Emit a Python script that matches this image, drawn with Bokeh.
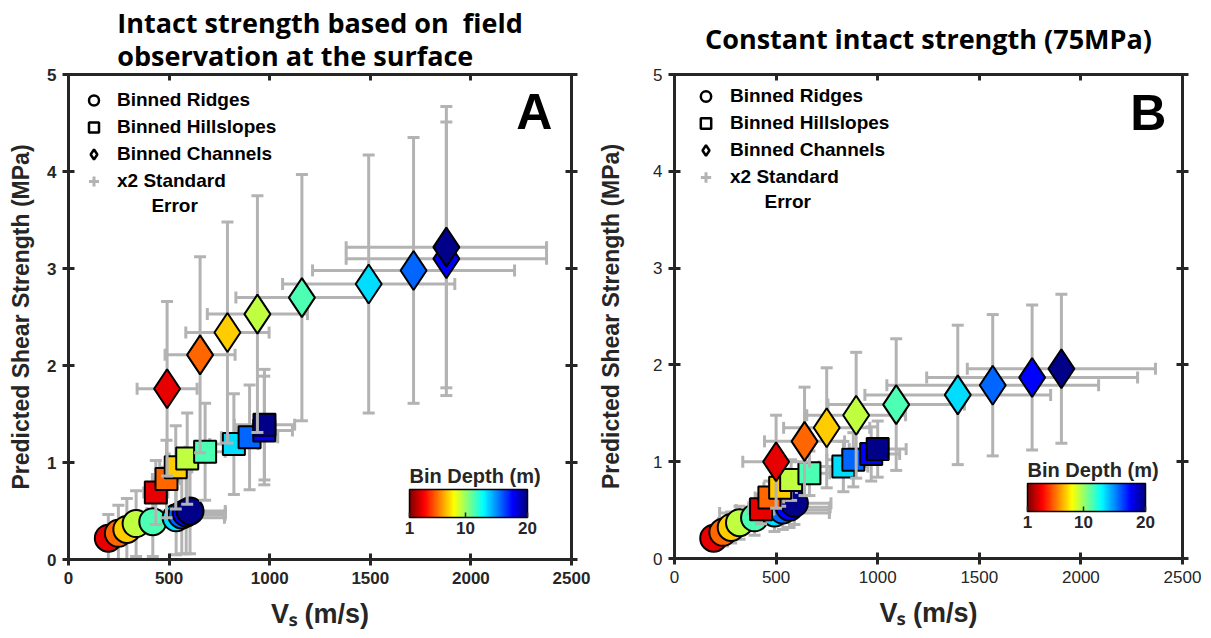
import numpy as np
from bokeh.plotting import figure
from bokeh.models import (Range1d, LinearAxis, FixedTicker, ColorBar, LinearColorMapper,
                          Legend, LegendItem, Label, ColumnDataSource)
from bokeh.layouts import row
from bokeh.embed import file_html
from bokeh.resources import INLINE

# ---------------- data ----------------
bin_colors = ["#e60000", "#ff6600", "#ffcc00", "#bfff40", "#4dffb3",
              "#00ddff", "#0066ff", "#0000ff", "#000088"]

# Panel A : intact strength from field observation
a_ridge_vs = [198, 248, 290, 336, 419, 535, 563, 585, 604]
a_ridge_tau = [0.22, 0.27, 0.31, 0.37, 0.39, 0.43, 0.46, 0.48, 0.50]
a_ridge_vs_err = [40, 50, 60, 70, 90, 240, 215, 195, 175]
a_ridge_tau_err = [0.245, 0.29, 0.32, 0.34, 0.36, 0.38, 0.40, 0.42, 0.44]

a_hill_vs = [434, 487, 533, 590, 679, 822, 900, 973, 974]
a_hill_tau = [0.69, 0.83, 0.95, 1.04, 1.11, 1.19, 1.26, 1.33, 1.39]
a_hill_vs_err = [60, 70, 80, 90, 100, 120, 140, 140, 150]
a_hill_tau_err = [0.33, 0.40, 0.43, 0.47, 0.50, 0.52, 0.54, 0.56, 0.57]

a_chan_vs = [490, 654, 790, 939, 1160, 1492, 1715, 1878, 1878]
a_chan_tau = [1.76, 2.11, 2.34, 2.53, 2.70, 2.84, 2.98, 3.10, 3.22]
a_chan_vs_err = [149, 174, 207, 249, 328, 428, 502, 498, 498]
a_chan_tau_err = [0.90, 1.01, 1.14, 1.22, 1.27, 1.33, 1.37, 1.41, 1.45]

# Panel B : constant intact strength (75 MPa)
b_ridge_vs = [193, 238, 279, 320, 394, 492, 533, 566, 590]
b_ridge_tau = [0.21, 0.27, 0.32, 0.37, 0.42, 0.47, 0.50, 0.53, 0.57]
b_ridge_vs_err = [40, 50, 60, 70, 90, 270, 230, 200, 180]
b_ridge_tau_err = [0.12, 0.14, 0.16, 0.17, 0.18, 0.19, 0.20, 0.21, 0.22]

b_hill_vs = [426, 467, 520, 574, 664, 831, 880, 968, 1000]
b_hill_tau = [0.51, 0.63, 0.73, 0.81, 0.88, 0.95, 1.02, 1.08, 1.13]
b_hill_vs_err = [60, 70, 80, 90, 100, 120, 130, 140, 140]
b_hill_tau_err = [0.15, 0.17, 0.19, 0.21, 0.23, 0.26, 0.28, 0.28, 0.29]

b_chan_vs = [500, 640, 749, 894, 1091, 1394, 1566, 1760, 1904]
b_chan_tau = [1.00, 1.21, 1.35, 1.48, 1.59, 1.69, 1.79, 1.87, 1.96]
b_chan_vs_err = [164, 197, 212, 243, 336, 457, 521, 519, 463]
b_chan_tau_err = [0.48, 0.56, 0.62, 0.65, 0.68, 0.72, 0.73, 0.75, 0.77]

x_ticks = [0, 500, 1000, 1500, 2000, 2500]
y_ticks = [0, 1, 2, 3, 4, 5]
cbar_ticks = [1, 10, 20]
depth_low, depth_high = 1, 20

legend_labels = ["Binned Ridges", "Binned Hillslopes", "Binned Channels", "x2 Standard"]
legend_label_cont = "Error"
title_a = "Intact strength based on \u00a0field\nobservation at the surface"
title_b = "Constant intact strength (75MPa)"

# ---------------- style ----------------
DARK = "#262626"
ERR = "#b3b3b3"
AXFONT = "Liberation Sans"


def jet_palette(n=256):
    cols = []
    for i in range(n):
        t = i / (n - 1)
        r = np.clip(1.5 - abs(4 * t - 3), 0, 1)
        g = np.clip(1.5 - abs(4 * t - 2), 0, 1)
        b = np.clip(1.5 - abs(4 * t - 1), 0, 1)
        cols.append("#%02x%02x%02x" % (int(r * 255), int(g * 255), int(b * 255)))
    return cols[::-1]   # red (shallow) -> blue (deep)


def style_axis(ax, bold, labels=True):
    ax.axis_line_width = 3
    ax.axis_line_color = DARK
    ax.major_tick_line_width = 3
    ax.major_tick_line_color = DARK
    ax.major_tick_in = 6
    ax.major_tick_out = 6
    ax.minor_tick_line_color = None
    ax.major_label_text_font = AXFONT
    ax.major_label_text_font_size = "17px"
    ax.major_label_text_font_style = "bold" if bold else "normal"
    ax.major_label_text_color = DARK
    ax.axis_label_text_font = AXFONT
    ax.axis_label_text_font_style = "bold"
    ax.axis_label_text_color = DARK
    if not labels:
        ax.major_label_overrides = {t: "" for t in x_ticks + y_ticks}
        ax.major_label_text_font_size = "0px"
        ax.major_label_standoff = 0


def draw_group(p, vs, tau, vs_err, tau_err, marker, size):
    vs = np.array(vs, float); tau = np.array(tau, float)
    ex = np.array(vs_err, float); ey = np.array(tau_err, float)
    src = ColumnDataSource(dict(x=vs, y=tau, x0=vs - ex, x1=vs + ex,
                                y0=tau - ey, y1=tau + ey, c=bin_colors))
    p.segment(x0="x", y0="y0", x1="x", y1="y1", source=src, line_color=ERR, line_width=3)
    p.segment(x0="x0", y0="y", x1="x1", y1="y", source=src, line_color=ERR, line_width=3)
    for yk in ("y0", "y1"):
        p.scatter(x="x", y=yk, source=src, marker="dash", size=12,
                  line_color=ERR, line_width=3)
    for xk in ("x0", "x1"):
        p.scatter(x=xk, y="y", source=src, marker="dash", angle=np.pi / 2, size=12,
                  line_color=ERR, line_width=3)
    p.scatter(x="x", y="y", source=src, marker=marker, size=size, fill_color="c",
              line_color="black", line_width=2)


def make_panel(title, standoff, min_left, frame_w, min_right, min_top, frame_h, min_bottom,
               bold_ticks, data, leg, err_xy, cbar_loc, letter, letter_xy, ylab_standoff):
    p = figure(output_backend="svg", toolbar_location=None,
               frame_width=frame_w, frame_height=frame_h,
               min_border_left=min_left, min_border_right=min_right,
               min_border_top=min_top, min_border_bottom=min_bottom,
               x_range=Range1d(0, 2500), y_range=Range1d(0, 5),
               x_axis_label="V\u209b (m/s)", y_axis_label="Predicted Shear Strength (MPa)")
    p.background_fill_color = "white"
    p.border_fill_color = "white"
    p.outline_line_color = None
    p.xgrid.visible = False
    p.ygrid.visible = False

    p.title.text = title
    p.title.align = "center"
    p.title.text_font = "Open Sans"
    p.title.text_font_style = "bold"
    p.title.text_font_size = "27px"
    p.title.text_color = "black"
    p.title.standoff = standoff
    try:
        p.title.text_line_height = 0.9
    except Exception:
        pass

    p.xaxis.ticker = FixedTicker(ticks=x_ticks)
    p.yaxis.ticker = FixedTicker(ticks=y_ticks)
    style_axis(p.xaxis[0], bold_ticks)
    style_axis(p.yaxis[0], bold_ticks)
    p.xaxis.axis_label_text_font_size = "27px"
    p.yaxis.axis_label_text_font_size = "23px"
    p.xaxis.major_label_standoff = 6
    p.yaxis.major_label_standoff = 6
    p.xaxis.axis_label_standoff = 12
    p.yaxis.axis_label_standoff = ylab_standoff

    top = LinearAxis(ticker=FixedTicker(ticks=x_ticks))
    right = LinearAxis(ticker=FixedTicker(ticks=y_ticks))
    style_axis(top, bold_ticks, labels=False)
    style_axis(right, bold_ticks, labels=False)
    top.major_tick_out = 0
    p.add_layout(top, "above")
    p.add_layout(right, "right")

    # data groups: ridges, hillslopes, channels
    (rv, rt, rve, rte), (hv, ht, hve, hte), (cv, ct, cve, cte) = data
    draw_group(p, rv, rt, rve, rte, "circle", 27)
    draw_group(p, hv, ht, hve, hte, "square", 22)
    draw_group(p, cv, ct, cve, cte, "diamond", 39)

    # legend proxies (no visible data point)
    nan = [np.nan]
    r1 = p.scatter(x=nan, y=nan, marker="circle", size=11, fill_color=None,
                   line_color="black", line_width=2.5)
    r2 = p.scatter(x=nan, y=nan, marker="square", size=10, fill_color=None,
                   line_color="black", line_width=2.5)
    r3 = p.scatter(x=nan, y=nan, marker="diamond", size=16, fill_color=None,
                   line_color="black", line_width=2.5)
    r4 = p.scatter(x=nan, y=nan, marker="cross", size=26, line_color=ERR, line_width=3)
    margin, gw, stand = leg
    legend = Legend(items=[LegendItem(label=legend_labels[0], renderers=[r1]),
                           LegendItem(label=legend_labels[1], renderers=[r2]),
                           LegendItem(label=legend_labels[2], renderers=[r3]),
                           LegendItem(label=legend_labels[3], renderers=[r4])],
                    location="top_left", margin=margin, padding=7,
                    glyph_width=gw, glyph_height=26, label_height=26, spacing=1,
                    label_standoff=stand, border_line_color=None,
                    background_fill_alpha=0,
                    label_text_font=AXFONT, label_text_font_style="bold",
                    label_text_font_size="19px", label_text_color="black")
    p.add_layout(legend)
    p.add_layout(Label(x=err_xy[0], y=err_xy[1], text=legend_label_cont,
                       text_align="left", text_baseline="middle", text_font=AXFONT,
                       text_font_style="bold", text_font_size="19px", text_color="black"))

    mapper = LinearColorMapper(palette=jet_palette(), low=depth_low, high=depth_high)
    cb = ColorBar(color_mapper=mapper, orientation="horizontal", width=118, height=28,
                  location=cbar_loc, ticker=FixedTicker(ticks=cbar_ticks),
                  title="Bin Depth (m)", title_text_font=AXFONT,
                  title_text_font_style="bold", title_text_font_size="20px",
                  title_text_color=DARK, title_standoff=6,
                  major_label_text_font=AXFONT, major_label_text_font_style="bold",
                  major_label_text_font_size="17px", major_label_text_color=DARK,
                  label_standoff=4, bar_line_color="black", bar_line_width=1.5,
                  major_tick_line_color=DARK, major_tick_line_width=1.5,
                  minor_tick_line_color=None,
                  background_fill_alpha=0, border_line_color=None, padding=5)
    p.add_layout(cb)

    p.add_layout(Label(x=letter_xy[0], y=letter_xy[1], text=letter, text_align="right",
                       text_baseline="top", text_font=AXFONT, text_font_style="bold",
                       text_font_size="50px", text_color="black"))
    return p


pA = make_panel(title_a, 0, 68, 503, 24, 69, 485, 64, True,
                [(a_ridge_vs, a_ridge_tau, a_ridge_vs_err, a_ridge_tau_err),
                 (a_hill_vs, a_hill_tau, a_hill_vs_err, a_hill_tau_err),
                 (a_chan_vs, a_chan_tau, a_chan_vs_err, a_chan_tau_err)],
                (13, 25, 11), (412, 3.65), (336, 18), "A", (2405, 4.90), 10)
pB = make_panel(title_b, 35, 78, 508, 20, 65, 484, 69, False,
                [(b_ridge_vs, b_ridge_tau, b_ridge_vs_err, b_ridge_tau_err),
                 (b_hill_vs, b_hill_tau, b_hill_vs_err, b_hill_tau_err),
                 (b_chan_vs, b_chan_tau, b_chan_vs_err, b_chan_tau_err)],
                (9, 45, 2), (443, 3.69), (348, 23), "B", (2420, 4.89), 26)

layout = row(pA, pB)
open("out.html", "w").write(file_html(layout, INLINE))
